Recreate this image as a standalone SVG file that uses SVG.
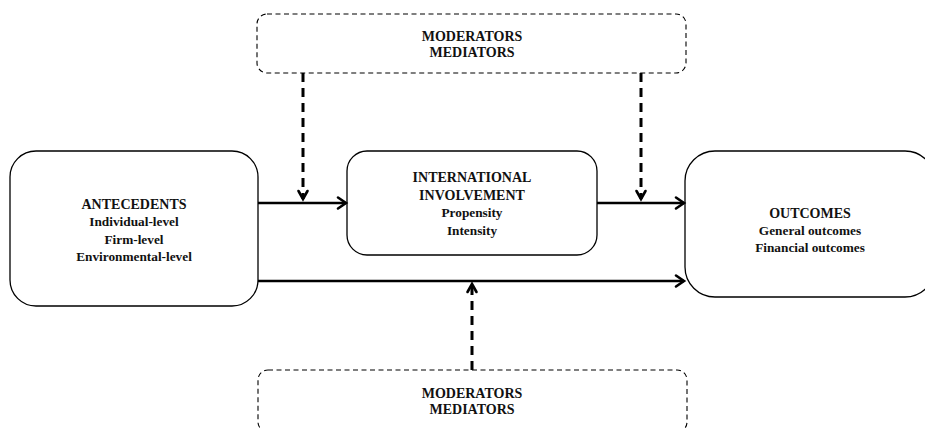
<svg xmlns="http://www.w3.org/2000/svg" width="925" height="429" viewBox="0 0 925 429">
  <style>
    .box { fill: #fff; stroke: #000; stroke-width: 1.3; }
    .dbox { fill: #fff; stroke: #000; stroke-width: 1.1; stroke-dasharray: 5 3.5; }
    .t { font-family: "Liberation Serif", "Times New Roman", serif; font-weight: bold; text-anchor: middle; fill: #111; }
    .h { font-size: 14px; }
    .s { font-size: 13.3px; }
    .flow { fill: none; stroke: #000; stroke-width: 2.6; }
    .dflow { fill: none; stroke: #000; stroke-width: 3; stroke-dasharray: 9 6; }
    .head { fill: none; stroke: #000; stroke-width: 2.6; stroke-linecap: round; stroke-linejoin: miter; }
  </style>
  <rect width="925" height="429" fill="#fff"/>

  <g id="moderators-top">
    <rect class="dbox" x="257" y="14" width="429" height="59" rx="10"/>
    <text class="t h" x="472" y="41">MODERATORS</text>
    <text class="t h" x="472" y="57">MEDIATORS</text>
  </g>

  <g id="antecedents">
    <rect class="box" x="10" y="151" width="248" height="155" rx="26"/>
    <text class="t h" x="134" y="209">ANTECEDENTS</text>
    <text class="t s" x="134" y="226">Individual-level</text>
    <text class="t s" x="134" y="244">Firm-level</text>
    <text class="t s" x="134" y="261">Environmental-level</text>
  </g>

  <g id="involvement">
    <rect class="box" x="347" y="151" width="250" height="104" rx="20"/>
    <text class="t h" x="472" y="182">INTERNATIONAL</text>
    <text class="t h" x="472" y="200">INVOLVEMENT</text>
    <text class="t s" x="472" y="217">Propensity</text>
    <text class="t s" x="472" y="235">Intensity</text>
  </g>

  <g id="outcomes">
    <rect class="box" x="685" y="151" width="250" height="146" rx="30"/>
    <text class="t h" x="810" y="218">OUTCOMES</text>
    <text class="t s" x="810" y="235">General outcomes</text>
    <text class="t s" x="810" y="252">Financial outcomes</text>
  </g>

  <g id="moderators-bottom">
    <rect class="dbox" x="258" y="370" width="429" height="62" rx="10"/>
    <text class="t h" x="472" y="398">MODERATORS</text>
    <text class="t h" x="472" y="414">MEDIATORS</text>
  </g>

  <g id="connectors">
    <!-- solid flows -->
    <line class="flow" x1="258" y1="203" x2="346" y2="203"/>
    <polyline class="head" points="338,197.5 346,203 338,208.5"/>
    <line class="flow" x1="597" y1="203" x2="684" y2="203"/>
    <polyline class="head" points="676,197.5 684,203 676,208.5"/>
    <line class="flow" x1="258" y1="281" x2="684" y2="281"/>
    <polyline class="head" points="676,275.5 684,281 676,286.5"/>
    <!-- dashed influences -->
    <line class="dflow" x1="303" y1="73" x2="303" y2="199"/>
    <polyline class="head" points="298.5,191 303,199 307.5,191"/>
    <line class="dflow" x1="641" y1="73" x2="641" y2="199"/>
    <polyline class="head" points="636.5,191 641,199 645.5,191"/>
    <line class="dflow" x1="472" y1="370" x2="472" y2="284"/>
    <polyline class="head" points="467.5,292 472,284 476.5,292"/>
  </g>
</svg>
